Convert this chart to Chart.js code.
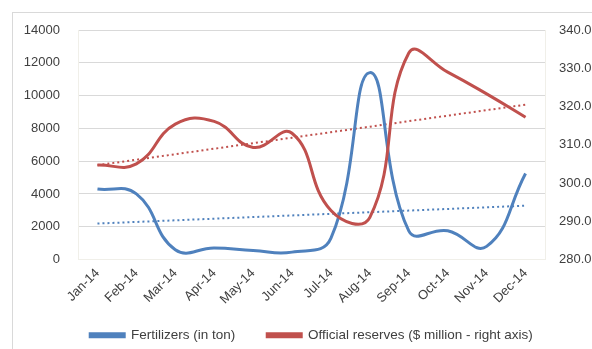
<!DOCTYPE html>
<html>
<head>
<meta charset="utf-8">
<script src="https://cdn.jsdelivr.net/npm/chart.js@4.4.1/dist/chart.umd.min.js"></script>
<style>
  html, body { margin: 0; padding: 0; background: #fff; overflow: hidden; }
  #frame {
    position: absolute; left: 12px; top: 12px;
    width: 597px; height: 350px;
    border: 1px solid #d9d9d9; background: #fff;
  }
  canvas { display: block; }
</style>
</head>
<body>
<div id="frame"><canvas id="c" width="597" height="350"></canvas></div>
<script>
const months = ['Jan-14','Feb-14','Mar-14','Apr-14','May-14','Jun-14',
                'Jul-14','Aug-14','Sep-14','Oct-14','Nov-14','Dec-14'];
const fertilizers = [4300, 4000, 600, 700, 550, 450, 1300, 11400, 1750, 1750, 800, 5250];
const reserves = [304.7, 305.0, 315.4, 316.1, 309.3, 313.0, 292.8, 291.0, 334.0, 329.0, 323.3, 317.2];
const leftTicks = [0, 2000, 4000, 6000, 8000, 10000, 12000, 14000];
const rightTicks = [280, 290, 300, 310, 320, 330, 340];

const BLUE = '#4f81bd';
const RED = '#c0504d';

// least-squares linear trend over the month index
function linearTrend(values) {
  const n = values.length;
  const mx = (n - 1) / 2;
  const my = values.reduce((a, b) => a + b, 0) / n;
  let sxy = 0, sxx = 0;
  values.forEach((v, i) => { sxy += (i - mx) * (v - my); sxx += (i - mx) * (i - mx); });
  const slope = sxy / sxx;
  return values.map((_, i) => my + slope * (i - mx));
}

const fontFamily = "'Liberation Sans', Arial, sans-serif";

// fixed axis widths; no extra vertical overhang from the tick labels
function fixWidth(w) {
  return s => { s.width = w; s.paddingTop = 0; s.paddingBottom = 0; };
}

const chart = new Chart(document.getElementById('c'), {
  type: 'line',
  data: {
    labels: months,
    datasets: [
      {
        label: 'Fertilizers (in ton)',
        data: fertilizers,
        yAxisID: 'y',
        borderColor: BLUE,
        backgroundColor: BLUE,
        borderWidth: 3,
        tension: 0.45,
        pointRadius: 0,
        order: 1
      },
      {
        label: 'Official reserves ($ million - right axis)',
        data: reserves,
        yAxisID: 'y1',
        borderColor: RED,
        backgroundColor: RED,
        borderWidth: 3,
        tension: 0.45,
        pointRadius: 0,
        order: 0
      },
      {
        label: 'trend-fert',
        data: linearTrend(fertilizers),
        yAxisID: 'y',
        borderColor: BLUE,
        borderWidth: 2,
        borderDash: [2, 3],
        pointRadius: 0,
        tension: 0,
        order: 2
      },
      {
        label: 'trend-res',
        data: linearTrend(reserves),
        yAxisID: 'y1',
        borderColor: RED,
        borderWidth: 2,
        borderDash: [2, 3],
        pointRadius: 0,
        tension: 0,
        order: 2
      }
    ]
  },
  options: {
    responsive: false,
    animation: false,
    layout: { padding: { left: 0, right: 0, top: 17, bottom: 11 } },
    plugins: {
      tooltip: { enabled: false },
      legend: {
        position: 'bottom',
        labels: {
          filter: item => !item.text.startsWith('trend'),
          sort: (a, b) => a.datasetIndex - b.datasetIndex,
          boxWidth: 34,
          boxHeight: 3,
          padding: 32,
          color: '#404040',
          font: { family: fontFamily, size: 13.5 }
        }
      }
    },
    scales: {
      x: {
        offset: true,
        grid: { display: false, drawTicks: false },
        border: { display: true, color: '#f0efe9' },
        ticks: {
          minRotation: 45, maxRotation: 45,
          padding: 6,
          color: '#404040',
          font: { family: fontFamily, size: 13 }
        },
        afterFit: s => {
          s.height = 37;
          // rotated month labels may extend past the axis box
          s._computeLabelArea = () => undefined;
        }
      },
      y: {
        position: 'left',
        min: 0, max: 14000,
        afterBuildTicks: s => { s.ticks = leftTicks.map(v => ({ value: v })); },
        grid: { color: '#d9d9d9', drawTicks: false },
        border: { display: true, color: '#f0efe9' },
        ticks: {
          padding: 18,
          color: '#404040',
          font: { family: fontFamily, size: 13 },
          callback: v => String(v)
        },
        afterFit: fixWidth(65)
      },
      y1: {
        position: 'right',
        min: 280, max: 340,
        afterBuildTicks: s => { s.ticks = rightTicks.map(v => ({ value: v })); },
        grid: { display: false, drawTicks: false },
        border: { display: true, color: '#f0efe9' },
        ticks: {
          padding: 14,
          color: '#404040',
          font: { family: fontFamily, size: 13 },
          callback: v => v.toFixed(1)
        },
        afterFit: fixWidth(65)
      }
    }
  }
});
</script>
</body>
</html>
